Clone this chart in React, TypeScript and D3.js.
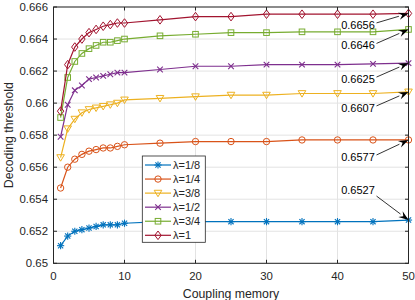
import React from "react";
import * as d3 from "d3";

const memories = [1, 2, 3, 4, 5, 6, 7, 8, 9, 10, 15, 20, 25, 30, 35, 40, 45, 50];
const seriesLabels = ["λ=1/8", "λ=1/4", "λ=3/8", "λ=1/2", "λ=3/4", "λ=1"];
const lambda18 = [0.6511, 0.6517, 0.6520, 0.6521, 0.6522, 0.6523, 0.6524, 0.6524, 0.6524, 0.6525, 0.6526, 0.6526, 0.6526, 0.6526, 0.6526, 0.6526, 0.6526, 0.6527];
const lambda14 = [0.6547, 0.6560, 0.6565, 0.6568, 0.6570, 0.6571, 0.6572, 0.6572, 0.6573, 0.6574, 0.6575, 0.6576, 0.6576, 0.6576, 0.6577, 0.6577, 0.6577, 0.6577];
const lambda38 = [0.6566, 0.6584, 0.6590, 0.6594, 0.6596, 0.6597, 0.6598, 0.6599, 0.6600, 0.6602, 0.6603, 0.6604, 0.6605, 0.6605, 0.6606, 0.6606, 0.6606, 0.6607];
const lambda12 = [0.6579, 0.6599, 0.6608, 0.6611, 0.6615, 0.6616, 0.6617, 0.6618, 0.6619, 0.6619, 0.6621, 0.6623, 0.6623, 0.6624, 0.6624, 0.6624, 0.66245, 0.6625];
const lambda34 = [0.6591, 0.6616, 0.6626, 0.6631, 0.6634, 0.6636, 0.6638, 0.6638, 0.6639, 0.6640, 0.6642, 0.6643, 0.6644, 0.6644, 0.66445, 0.66445, 0.66445, 0.6646];
const lambda1 = [0.6595, 0.6624, 0.6635, 0.6640, 0.6644, 0.6646, 0.6648, 0.6649, 0.6650, 0.6650, 0.6652, 0.6654, 0.6654, 0.66555, 0.66555, 0.66555, 0.66555, 0.6656];
const seriesValues = [lambda18, lambda14, lambda38, lambda12, lambda34, lambda1];
const annotationLabels = ["0.6527", "0.6577", "0.6607", "0.6625", "0.6646", "0.6656"];
const xTicks = [0, 10, 20, 30, 40, 50];
const yTicks = [0.65, 0.652, 0.654, 0.656, 0.658, 0.66, 0.662, 0.664, 0.666];

const colors = ["#0072BD", "#D95319", "#EDB120", "#7E2F8E", "#77AC30", "#A2142F"];
const markerKinds = ["star", "circle", "tri", "x", "square", "diamond"];
// text center offsets (px) from the arrow tip, layout only
const annotationDy = [-30, 17, 16, 16, 16, 11.5];

const W = 415, H = 300;
const L = 53.5, R = 408.5, T = 7, B = 263.3;
const FONT = "'Liberation Sans', Arial, Helvetica, sans-serif";
const AX = "#262626";

function Marker({ kind, x, y, color }: { kind: string; x: number; y: number; color: string }) {
  const sw = 1;
  if (kind === "star") {
    const s = 3.6, d = 2.6;
    return (
      <g stroke={color} strokeWidth={1.1}>
        <line x1={x - s} y1={y} x2={x + s} y2={y} />
        <line x1={x} y1={y - s} x2={x} y2={y + s} />
        <line x1={x - d} y1={y - d} x2={x + d} y2={y + d} />
        <line x1={x - d} y1={y + d} x2={x + d} y2={y - d} />
      </g>
    );
  }
  if (kind === "circle") return <circle cx={x} cy={y} r={3.2} fill="none" stroke={color} strokeWidth={sw} />;
  if (kind === "tri") {
    const s = 3.8;
    return <path d={`M${x - s},${y - s * 0.75}L${x + s},${y - s * 0.75}L${x},${y + s * 0.95}Z`} fill="none" stroke={color} strokeWidth={sw} />;
  }
  if (kind === "x") {
    const s = 2.8;
    return (
      <g stroke={color} strokeWidth={1.1}>
        <line x1={x - s} y1={y - s} x2={x + s} y2={y + s} />
        <line x1={x - s} y1={y + s} x2={x + s} y2={y - s} />
      </g>
    );
  }
  if (kind === "square") {
    const s = 2.8;
    return <rect x={x - s} y={y - s} width={2 * s} height={2 * s} fill="none" stroke={color} strokeWidth={sw} />;
  }
  const w = 3.2, h = 4.3;
  return <path d={`M${x},${y - h}L${x + w},${y}L${x},${y + h}L${x - w},${y}Z`} fill="none" stroke={color} strokeWidth={sw} />;
}

export default function App() {
  const x = d3.scaleLinear().domain([0, 50]).range([L, R]);
  const y = d3.scaleLinear().domain([0.65, 0.666]).range([B, T]);
  const line = d3.line<number>().x((_, i) => x(memories[i])).y((v) => y(v));
  const tick = 3.5;

  const legX = 142.3, legY = 156, legW = 63, legH = 86.3, rowStep = 14.06;

  return (
    <svg width={W} height={H} style={{ position: "absolute", left: 0, top: 0, background: "#fff" }} fontFamily={FONT}>
      <rect x={0} y={0} width={W} height={H} fill="#fff" />
      {/* grid */}
      {xTicks.map((t) => (
        <line key={"gx" + t} x1={x(t)} x2={x(t)} y1={T} y2={B} stroke="#e3e3e3" strokeWidth={1} />
      ))}
      {yTicks.map((t) => (
        <line key={"gy" + t} x1={L} x2={R} y1={y(t)} y2={y(t)} stroke="#e3e3e3" strokeWidth={1} />
      ))}
      {/* series */}
      {seriesValues.map((vals, si) => (
        <g key={"s" + si}>
          <path d={line(vals) || ""} fill="none" stroke={colors[si]} strokeWidth={1.2} />
          {vals.map((v, i) => (
            <Marker key={i} kind={markerKinds[si]} x={x(memories[i])} y={y(v)} color={colors[si]} />
          ))}
        </g>
      ))}
      {/* axes box */}
      <rect x={L} y={T} width={R - L} height={B - T} fill="none" stroke={AX} strokeWidth={1} />
      {xTicks.map((t) => (
        <g key={"tx" + t}>
          <line x1={x(t)} x2={x(t)} y1={B} y2={B - tick} stroke={AX} />
          <line x1={x(t)} x2={x(t)} y1={T} y2={T + tick} stroke={AX} />
          <text x={x(t)} y={280} textAnchor="middle" fontSize={11.4} fill={AX}>{d3.format("")(t)}</text>
        </g>
      ))}
      {yTicks.map((t) => (
        <g key={"ty" + t}>
          <line x1={L} x2={L + tick} y1={y(t)} y2={y(t)} stroke={AX} />
          <line x1={R} x2={R - tick} y1={y(t)} y2={y(t)} stroke={AX} />
          <text x={48} y={y(t)} dy="0.35em" textAnchor="end" fontSize={11.4} fill={AX}>{String(+t.toFixed(3))}</text>
        </g>
      ))}
      <text x={(L + R) / 2} y={297.5} textAnchor="middle" fontSize={12.3} fill={AX}>Coupling memory</text>
      <text transform={`translate(12.8,${(T + B) / 2}) rotate(-90)`} textAnchor="middle" fontSize={12.3} fill={AX}>Decoding threshold</text>
      {/* annotations */}
      {seriesValues.map((vals, si) => {
        const tipX = x(memories[memories.length - 1]);
        const tipY = y(vals[vals.length - 1]);
        const cy = tipY + annotationDy[si];
        const sx = 376.5;
        const sy = annotationDy[si] < 0 ? cy + 6 : cy - 2;
        const ang = Math.atan2(tipY - sy, tipX - sx);
        const hl = 10, hw = 3.6;
        const bx = tipX - hl * Math.cos(ang), by = tipY - hl * Math.sin(ang);
        const px = -Math.sin(ang) * hw, py = Math.cos(ang) * hw;
        return (
          <g key={"a" + si}>
            <text x={358} y={cy} dy="0.35em" textAnchor="middle" fontSize={11} fill="#000">{annotationLabels[si]}</text>
            <line x1={sx} y1={sy} x2={bx} y2={by} stroke="#000" strokeWidth={0.8} />
            <path d={`M${tipX},${tipY}L${bx + px},${by + py}L${bx + 0.35 * hl * Math.cos(ang)},${by + 0.35 * hl * Math.sin(ang)}L${bx - px},${by - py}Z`} fill="#000" />
          </g>
        );
      })}
      {/* legend */}
      <rect x={legX} y={legY} width={legW} height={legH} fill="#fff" stroke={AX} strokeWidth={0.8} />
      {seriesLabels.map((lab, si) => {
        const ry = 165 + si * rowStep;
        return (
          <g key={"l" + si}>
            <line x1={145} x2={171} y1={ry} y2={ry} stroke={colors[si]} strokeWidth={1.2} />
            <Marker kind={markerKinds[si]} x={158} y={ry} color={colors[si]} />
            <text x={173} y={ry} dy="0.35em" fontSize={11} fill={AX}>{lab}</text>
          </g>
        );
      })}
    </svg>
  );
}
